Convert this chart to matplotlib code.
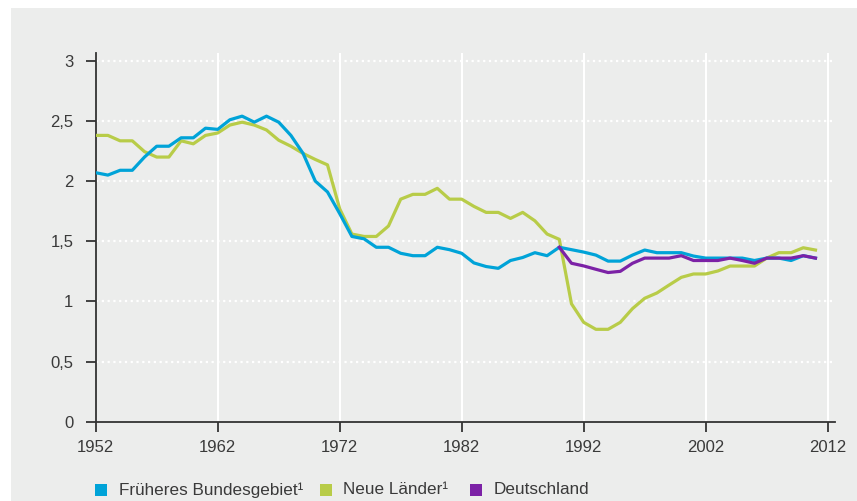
import matplotlib
matplotlib.use("Agg")
import matplotlib.pyplot as plt
from matplotlib.patches import Rectangle

years_west = list(range(1952, 2012))
west = [2.07, 2.05, 2.09, 2.09, 2.20, 2.29, 2.29, 2.36, 2.36, 2.44,
        2.43, 2.51, 2.54, 2.49, 2.54, 2.49, 2.38, 2.23, 2.00, 1.91,
        1.73, 1.54, 1.52, 1.45, 1.45, 1.40, 1.38, 1.38, 1.45, 1.43,
        1.40, 1.32, 1.29, 1.275, 1.34, 1.365, 1.405, 1.38, 1.45, 1.43,
        1.41, 1.385, 1.335, 1.335, 1.385, 1.427, 1.405, 1.405, 1.405, 1.377,
        1.36, 1.36, 1.36, 1.36, 1.34, 1.36, 1.36, 1.34, 1.38, 1.36]

years_east = list(range(1952, 2012))
east = [2.38, 2.38, 2.335, 2.335, 2.245, 2.20, 2.20, 2.335, 2.31, 2.38,
        2.40, 2.466, 2.49, 2.466, 2.425, 2.34, 2.29, 2.23, 2.18, 2.135,
        1.77, 1.56, 1.54, 1.54, 1.627, 1.85, 1.89, 1.89, 1.94, 1.85,
        1.85, 1.79, 1.74, 1.74, 1.69, 1.74, 1.67, 1.56, 1.516, 0.98,
        0.826, 0.768, 0.768, 0.826, 0.94, 1.026, 1.07, 1.136, 1.20, 1.228,
        1.228, 1.253, 1.294, 1.294, 1.294, 1.36, 1.405, 1.405, 1.446, 1.427]

years_de = list(range(1990, 2012))
de = [1.45, 1.317, 1.295, 1.267, 1.24, 1.25, 1.317, 1.36, 1.36, 1.36,
      1.38, 1.34, 1.34, 1.34, 1.36, 1.34, 1.317, 1.36, 1.36, 1.36,
      1.38, 1.36]

xticks = [1952, 1962, 1972, 1982, 1992, 2002, 2012]
yticks = [0, 0.5, 1, 1.5, 2, 2.5, 3]
ylabels = ["0", "0,5", "1", "1,5", "2", "2,5", "3"]
series_names = ["Früheres Bundesgebiet¹", "Neue Länder¹", "Deutschland"]

c_blue = "#00a3d8"
c_green = "#b8cc48"
c_purple = "#7c22a6"
bg = "#ecedec"
txt = "#3a3a3a"

plt.rcParams['font.family'] = ['Liberation Sans', 'DejaVu Sans']

W, H = 857, 501
fig = plt.figure(figsize=(W / 100, H / 100), dpi=100)
fig.patch.set_facecolor("white")
fig.patches.append(Rectangle((11 / W, 0), 1 - 11 / W, 1 - 8 / H,
                             transform=fig.transFigure, facecolor=bg,
                             edgecolor="none", zorder=-10))

ax = fig.add_axes([95.7 / W, 1 - 421.7 / H, (835 - 95.7) / W, (421.7 - 53) / H])
ax.set_facecolor(bg)
ax.set_xlim(1952, 2012.6)
ax.set_ylim(0, 3.065)

for x in xticks[1:]:
    ax.axvline(x, color="white", lw=1.5, zorder=1)
for y in yticks[1:]:
    ax.axhline(y, color="white", lw=1.6, ls=(0, (1, 1.6)), zorder=1)

ax.plot(years_east, east, color=c_green, lw=2.3, zorder=3, solid_joinstyle="round")
ax.plot(years_west, west, color=c_blue, lw=2.3, zorder=4, solid_joinstyle="round")
ax.plot(years_de, de, color=c_purple, lw=2.3, zorder=5, solid_joinstyle="round")

for s in ["top", "right"]:
    ax.spines[s].set_visible(False)
for s in ["left", "bottom"]:
    ax.spines[s].set_color("#333333")
    ax.spines[s].set_linewidth(1.3)

ax.set_xticks(xticks)
ax.set_xticklabels([str(x) for x in xticks])
ax.set_yticks(yticks)
ax.set_yticklabels(ylabels)
ax.tick_params(axis="both", direction="out", length=7, width=1.3,
               color="#333333", labelcolor=txt, labelsize=12)
ax.tick_params(axis="y", pad=9)
ax.tick_params(axis="x", pad=6.5)

# legend
leg_y = 1 - 496 / H
sq_w, sq_h = 11.5 / W, 12.5 / H
items = [(95, 119, c_blue), (320, 343, c_green), (470, 494, c_purple)]
for (sx, tx, c), name in zip(items, series_names):
    fig.patches.append(Rectangle((sx / W, leg_y), sq_w, sq_h,
                                 transform=fig.transFigure, facecolor=c,
                                 edgecolor="none", zorder=2))
    fig.text(tx / W, 1 - 490 / H, name, color=txt, fontsize=12.3,
             va="center", ha="left")

fig.savefig("out.png", dpi=100, facecolor=fig.get_facecolor())
